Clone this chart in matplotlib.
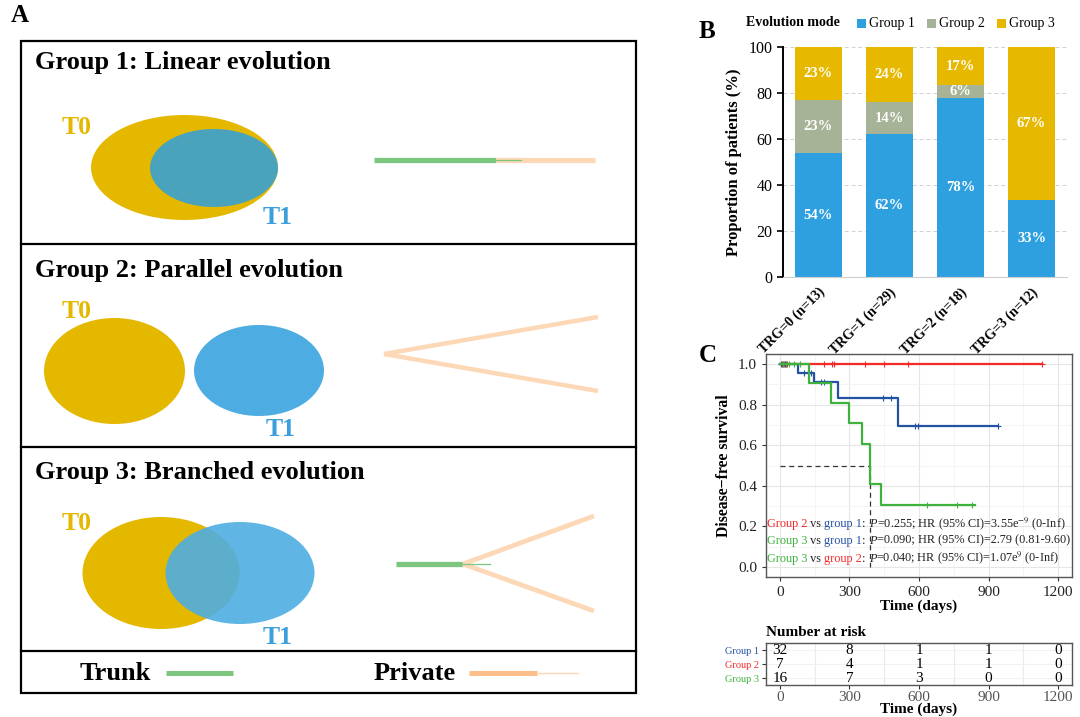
import matplotlib.pyplot as plt
import numpy as np
from matplotlib.patches import Ellipse, Rectangle
from matplotlib.offsetbox import TextArea, HPacker, AnchoredOffsetbox
from matplotlib.ticker import MultipleLocator

plt.rcParams['font.family'] = ['Liberation Serif', 'DejaVu Serif']
plt.rcParams['mathtext.fontset'] = 'stix'

# ---- panel B: evolution mode by TRG ----
trg_labels = ['TRG=0 (n=13)', 'TRG=1 (n=29)', 'TRG=2 (n=18)', 'TRG=3 (n=12)']
group1_pct = [53.8, 62.1, 77.8, 33.3]
group2_pct = [23.1, 13.8, 5.6, 0.0]
group3_pct = [23.1, 24.1, 16.7, 66.7]
mode_names = ['Group 1', 'Group 2', 'Group 3']
mode_colors = ['#2E9FDF', '#A7B396', '#E7B800']

# ---- panel C: Kaplan-Meier curves ----
km_g1_t = [0, 76, 148, 250, 508, 940]
km_g1_s = [1.0, 0.958, 0.913, 0.835, 0.696, 0.696]
km_g1_cens = [5, 12, 20, 28, 105, 133, 176, 190, 446, 480, 584, 596, 940]
km_g2_t = [0, 1130]
km_g2_s = [1.0, 1.0]
km_g2_cens = [8, 18, 30, 190, 226, 233, 365, 451, 554, 1130]
km_g3_t = [0, 126, 219, 298, 352, 387, 437, 842]
km_g3_s = [1.0, 0.908, 0.807, 0.709, 0.606, 0.407, 0.305, 0.305]
km_g3_cens = [15, 25, 40, 60, 85, 635, 765, 828]
g3_median = 387
km_colors = ['#2452A2', '#F42A2A', '#3DB33D']

risk_times = [0, 300, 600, 900, 1200]
risk_g1 = [32, 8, 1, 1, 0]
risk_g2 = [7, 4, 1, 1, 0]
risk_g3 = [16, 7, 3, 0, 0]

# (first group, its colour idx, second group, its colour idx, rest, y)
cmp_rows = [
    ('Group 2', 1, 'group 1', 0, '=0.255; HR (95% CI)=3.55e$^{-9}$ (0-Inf)', 0.215),
    ('Group 3', 2, 'group 1', 0, '=0.090; HR (95% CI)=2.79 (0.81-9.60)', 0.130),
    ('Group 3', 2, 'group 2', 1, '=0.040; HR (95% CI)=1.07e$^{9}$ (0-Inf)', 0.043),
]

W, H = 1080, 717
fig = plt.figure(figsize=(W / 100, H / 100), dpi=100)

def box(x0, y0, x1, y1):
    # figure-fraction rect from pixel corners (top-left origin)
    return [x0 / W, 1 - y1 / H, (x1 - x0) / W, (y1 - y0) / H]

# ---- panel A: schematic, drawn in pixel units ----
axA = fig.add_axes([0, 0, 1, 1])
axA.set_xlim(0, W)
axA.set_ylim(H, 0)
axA.axis('off')

yellow = '#E5B800'
skyblue = '#4DADE2'
green = '#7DC67F'
peach = '#FDD8B6'
orange = '#FDBE8A'

axA.add_patch(Rectangle((21, 41), 615, 652, fill=False, ec='black', lw=1.6))
for yy in [244, 447, 651]:
    axA.plot([21, 636], [yy, yy], color='black', lw=1.6)

title_kw = dict(fontsize=19, fontweight='bold', va='center', ha='left')
axA.text(35, 63, 'Group 1: Linear evolution', **title_kw)
axA.text(35, 270, 'Group 2: Parallel evolution', **title_kw)
axA.text(35, 473, 'Group 3: Branched evolution', **title_kw)

tk = dict(fontsize=18.5, fontweight='bold', va='center', ha='center', zorder=5)

# group 1
axA.add_patch(Ellipse((184.5, 167.5), 187, 105, color=yellow, lw=0))
axA.add_patch(Ellipse((214, 168), 128, 78, color='#4AA3BC', lw=0))
axA.text(77, 128, 'T0', color=yellow, **tk)
axA.text(278, 217, 'T1', color='#3A9FDB', **tk)
axA.plot([374, 496], [160, 160], color=green, lw=3.8, solid_capstyle='butt')
axA.plot([496, 595], [160, 160], color=peach, lw=3.8, solid_capstyle='butt')
axA.plot([496, 521], [160, 160], color=green, lw=0.9)

# group 2
axA.add_patch(Ellipse((114.5, 371), 141, 106, color=yellow, lw=0))
axA.add_patch(Ellipse((259, 370.5), 130, 91, color=skyblue, lw=0))
axA.text(77, 311, 'T0', color=yellow, **tk)
axA.text(281, 430, 'T1', color='#3A9FDB', **tk)
axA.plot([384, 598], [354, 317], color=peach, lw=3.2, solid_capstyle='butt')
axA.plot([384, 598], [354, 391], color=peach, lw=3.2, solid_capstyle='butt')

# group 3
axA.add_patch(Ellipse((161, 573), 157, 112, color=yellow, lw=0))
axA.add_patch(Ellipse((240, 573), 149, 102, color=skyblue, lw=0, alpha=0.9))
axA.text(77, 523, 'T0', color=yellow, **tk)
axA.text(278, 637, 'T1', color='#3A9FDB', **tk)
axA.plot([396, 463], [564, 564], color=green, lw=3.8, solid_capstyle='butt')
axA.plot([463, 594], [564, 516], color=peach, lw=3.4, solid_capstyle='butt')
axA.plot([463, 594], [564, 611], color=peach, lw=3.4, solid_capstyle='butt')
axA.plot([463, 490], [564, 564], color=green, lw=0.9)

# legend row
axA.text(80, 673, 'Trunk', fontsize=19, fontweight='bold', va='center', ha='left')
axA.plot([166, 233], [673, 673], color=green, lw=3.6, solid_capstyle='butt')
axA.text(374, 673, 'Private', fontsize=19, fontweight='bold', va='center', ha='left')
axA.plot([469, 537], [673, 673], color=orange, lw=3.6, solid_capstyle='butt')
axA.plot([537, 578], [673, 673], color=peach, lw=1.0)

# panel letters
let = dict(fontsize=18, fontweight='bold', va='center', ha='left')
axA.text(11, 16, 'A', **let)
axA.text(699, 32, 'B', **let)
axA.text(699, 356, 'C', **let)

# panel B legend (drawn by hand to match the one-row layout)
axA.text(746, 23, 'Evolution mode', fontsize=10, fontweight='bold', va='center', ha='left')
leg_x = [857, 927, 997]
for lx, name, col in zip(leg_x, mode_names, mode_colors):
    axA.add_patch(Rectangle((lx, 18.5), 9, 9, color=col, lw=0))
    axA.text(lx + 12, 23, name, fontsize=10, va='center', ha='left')

# ---- panel B ----
axB = fig.add_axes(box(783, 47, 1067, 277))
x = np.arange(len(trg_labels))
bottom = np.zeros(len(trg_labels))
for vals, col in zip([group1_pct, group2_pct, group3_pct], mode_colors):
    bars = axB.bar(x, vals, 0.66, bottom=bottom, color=col, zorder=2)
    labs = ['%d%%' % round(v) if v > 0 else '' for v in vals]
    axB.bar_label(bars, labels=labs, label_type='center', color='white',
                  fontweight='bold', fontsize=10.5)
    bottom += np.array(vals)
axB.set_xlim(-0.5, 3.5)
axB.set_ylim(0, 100)
axB.set_yticks([0, 20, 40, 60, 80, 100])
axB.yaxis.grid(True, color='#d0d0d0', lw=0.7, ls=(0, (4, 3)), zorder=0)
axB.set_xticks(x)
axB.set_xticklabels(trg_labels, rotation=45, ha='right', rotation_mode='anchor',
                    fontweight='bold', fontsize=10)
axB.tick_params(axis='y', labelsize=11.5, length=4, width=1.2)
axB.tick_params(axis='x', length=0, pad=6)
for s in ['top', 'right']:
    axB.spines[s].set_visible(False)
axB.spines['left'].set_linewidth(1.4)
axB.spines['bottom'].set_color('#cfcfcf')
axB.set_ylabel('Proportion of patients (%)', fontsize=12, fontweight='bold', labelpad=5)

# ---- panel C ----
axC = fig.add_axes(box(766, 354, 1072, 577))

def surv_at(times, surv, t):
    idx = np.searchsorted(times, t, side='right') - 1
    return np.array(surv)[idx]

km_sets = [(km_g1_t, km_g1_s, km_g1_cens), (km_g2_t, km_g2_s, km_g2_cens),
           (km_g3_t, km_g3_s, km_g3_cens)]
for i in [1, 0, 2]:
    t, s, c = km_sets[i]
    axC.step(t, s, where='post', color=km_colors[i], lw=1.6, zorder=3)
    axC.plot(c, surv_at(t, s, c), '+', color=km_colors[i], ms=4, mew=0.8, zorder=3)

axC.plot([0, g3_median], [0.5, 0.5], color='#333333', lw=0.9, ls=(0, (4, 3)), zorder=2)
axC.plot([g3_median, g3_median], [0.5, 0], color='#333333', lw=0.9, ls=(0, (4, 3)), zorder=2)

axC.set_xlim(-60, 1260)
axC.set_ylim(-0.05, 1.05)
axC.xaxis.set_major_locator(MultipleLocator(300))
axC.xaxis.set_minor_locator(MultipleLocator(150))
axC.yaxis.set_major_locator(MultipleLocator(0.2))
axC.yaxis.set_minor_locator(MultipleLocator(0.1))
axC.yaxis.set_major_formatter(plt.FormatStrFormatter('%.1f'))
axC.grid(which='major', color='#e6e6e6', lw=0.8)
axC.grid(which='minor', color='#f3f3f3', lw=0.6)
axC.set_axisbelow(True)
axC.tick_params(which='major', labelsize=11, length=3, color='#333333', labelcolor='#222222')
axC.tick_params(which='minor', length=0)
for s in axC.spines.values():
    s.set_color('#555555')
    s.set_linewidth(1.0)
axC.set_xlabel('Time (days)', fontsize=11, fontweight='bold', labelpad=0)
axC.set_ylabel('Disease\u2212free survival', fontsize=11.3, fontweight='bold', labelpad=4)

for g_a, c_a, g_b, c_b, rest, yy in cmp_rows:
    tp = dict(fontsize=8.8)
    parts = [TextArea(g_a, textprops=dict(color=km_colors[c_a], **tp)),
             TextArea(' vs ', textprops=dict(color='#222222', **tp)),
             TextArea(g_b, textprops=dict(color=km_colors[c_b], **tp)),
             TextArea(': ', textprops=dict(color='#222222', **tp)),
             TextArea('P', textprops=dict(color='#222222', style='italic', **tp)),
             TextArea(rest, textprops=dict(color='#222222', **tp))]
    hp = HPacker(children=parts, align='baseline', pad=0, sep=0)
    ab = AnchoredOffsetbox(loc='center left', child=hp, pad=0, borderpad=0, frameon=False,
                           bbox_to_anchor=(-56, yy), bbox_transform=axC.transData)
    axC.add_artist(ab)

# ---- risk table ----
axT = fig.add_axes(box(766, 643, 1072, 685))
for row, counts in enumerate([risk_g1, risk_g2, risk_g3]):
    for tt, n in zip(risk_times, counts):
        axT.text(tt, row + 1, str(n), ha='center', va='center', fontsize=11)
axT.set_xlim(-60, 1260)
axT.set_ylim(3.5, 0.5)
axT.xaxis.set_major_locator(MultipleLocator(300))
axT.xaxis.set_minor_locator(MultipleLocator(150))
axT.set_yticks([1, 2, 3])
axT.set_yticklabels(mode_names, fontsize=7.5)
axT.grid(which='minor', axis='x', color='#ebebeb', lw=0.8)
axT.grid(which='major', axis='y', color='#f0f0f0', lw=0.6)
axT.tick_params(which='major', labelsize=11, length=3, color='#333333', labelcolor='#555555', pad=1)
axT.tick_params(axis='y', labelsize=7.5, pad=2)
axT.tick_params(which='minor', length=0)
for s in axT.spines.values():
    s.set_color('#555555')
    s.set_linewidth(1.0)
for lab, col in zip(axT.get_yticklabels(), km_colors):
    lab.set_color(col)
axT.set_xlabel('Time (days)', fontsize=11, fontweight='bold', labelpad=-1)
axT.set_title('Number at risk', loc='left', fontsize=11, fontweight='bold', pad=5)

fig.savefig('out.png', dpi=100)
